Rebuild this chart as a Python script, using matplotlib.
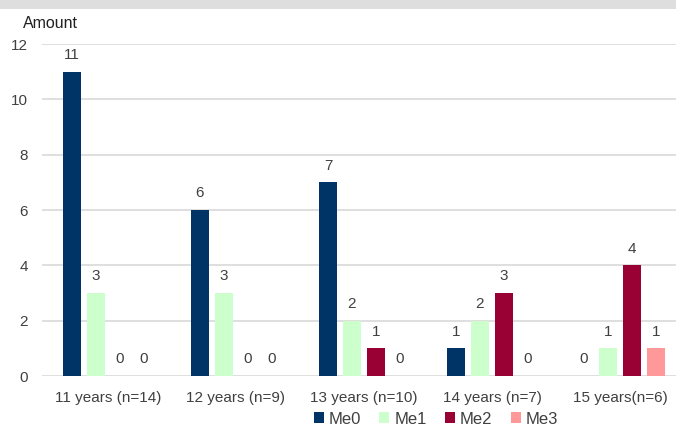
import numpy as np
import matplotlib.pyplot as plt
from matplotlib.patches import Rectangle

# Daten
kategorien = ['11 years (n=14)', '12 years (n=9)', '13 years (n=10)',
              '14 years (n=7)', '15 years(n=6)']
me0 = [11, 6, 7, 1, 0]
me1 = [3, 3, 2, 2, 1]
me2 = [0, 0, 1, 3, 4]
me3 = [0, 0, 0, 0, 1]
serien = ['Me0', 'Me1', 'Me2', 'Me3']
farben = ['#003366', '#ccffcc', '#990033', '#ff9999']

plt.rcParams['font.family'] = ['Liberation Sans', 'DejaVu Sans']

W, H = 676, 428
fig = plt.figure(figsize=(W / 100, H / 100), dpi=100, facecolor='white')

# grauer Balken oben
fig.patches.append(Rectangle((0, 1 - 9 / H), 1, 9 / H, transform=fig.transFigure,
                             facecolor='#dedede', edgecolor='none'))

ax = fig.add_axes([42 / W, 1 - 376 / H, (676 - 42) / W, (376 - 44) / H])
x = np.arange(len(kategorien))
breite = 18 / 128
abstand = 24 / 128

for i, (werte, name, farbe) in enumerate(zip([me0, me1, me2, me3], serien, farben)):
    pos = x + (i - 1.5) * abstand
    ax.bar(pos, werte, breite, color=farbe, label=name, zorder=3)
    for p, v in zip(pos, werte):
        ax.text(p, v + 0.35, str(v), ha='center', va='bottom', fontsize=11, color='#404040')

ax.set_xlim((42 - 108) / 128, (676 - 108) / 128)
ax.set_ylim(0, 12)
ax.set_yticks(range(0, 13, 2))
ax.grid(axis='y', color='#d9d9d9', linewidth=1.2, zorder=0)
for s in ax.spines.values():
    s.set_visible(False)
ax.tick_params(axis='both', length=0, labelsize=11, colors='#404040')
ax.tick_params(axis='y', pad=10)
ax.set_xticks(x)
ax.set_xticklabels(kategorien)
ax.tick_params(axis='x', pad=11)

fig.text(23 / W, 1 - 23 / H, 'Amount', fontsize=11.5, color='#202020', va='center')

fig.legend(loc='center', bbox_to_anchor=(436 / W, 1 - 419 / H), ncol=4, frameon=False,
           fontsize=12, handlelength=0.6, handleheight=0.6, handletextpad=0.3,
           columnspacing=1.1, labelcolor='#404040')

fig.savefig('out.png', dpi=100, facecolor='white')
